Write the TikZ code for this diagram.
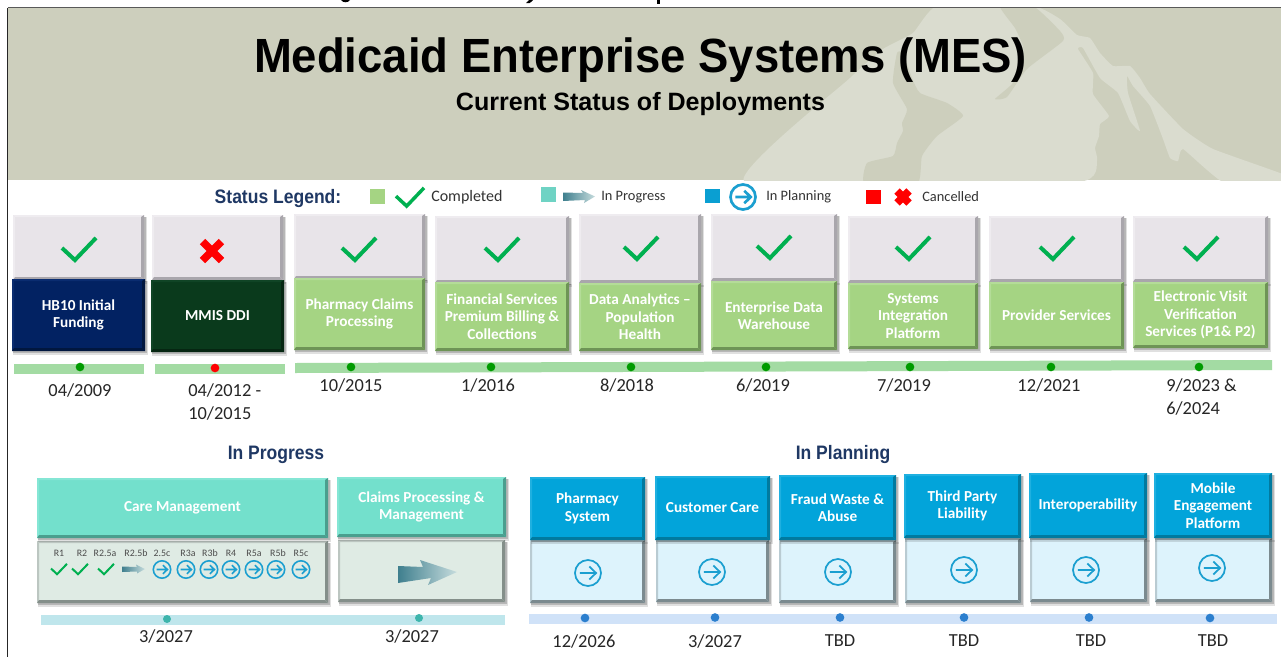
\documentclass[tikz,border=0pt]{standalone}
\usepackage{fontspec}
\setmainfont{Carlito}
\newfontfamily\titlefont[FakeStretch=.947]{Liberation Sans}
\newfontfamily\subtitlefont{Liberation Sans}
\newfontfamily\headfont[FakeStretch=.9]{Liberation Sans}
\definecolor{hdrbg}{HTML}{CDCFBD}
\definecolor{hdrlite}{HTML}{DADCCF}
\definecolor{navy}{HTML}{1F3864}
\definecolor{okgreen}{HTML}{00B050}
\definecolor{ringblue}{HTML}{1B9FD0}
\definecolor{greyfill}{HTML}{E8E4E9}\definecolor{greydark}{HTML}{A9A6AC}\definecolor{greylite}{HTML}{EFECF0}
\definecolor{greenfill}{HTML}{A5D483}\definecolor{greendark}{HTML}{6E9456}\definecolor{greenlite}{HTML}{B4DC98}
\definecolor{navyfill}{HTML}{022262}\definecolor{navydark}{HTML}{01173F}\definecolor{navylite}{HTML}{0A2C70}
\definecolor{forestfill}{HTML}{0A3A1C}\definecolor{forestdark}{HTML}{062612}\definecolor{forestlite}{HTML}{104425}
\definecolor{tealfill}{HTML}{73E0CC}\definecolor{tealdark}{HTML}{4A9E8E}\definecolor{teallite}{HTML}{85E6D5}
\definecolor{bluefill}{HTML}{02A4DA}\definecolor{bluedark}{HTML}{017A9F}\definecolor{bluelite}{HTML}{1FB0E0}
\definecolor{palefill}{HTML}{DDF3FC}\definecolor{paledark}{HTML}{7B8A8F}\definecolor{palelite}{HTML}{B9CBD2}
\definecolor{sagefill}{HTML}{DFEBE4}\definecolor{sagedark}{HTML}{848F8A}\definecolor{sagelite}{HTML}{BCC6C1}
\definecolor{legteal}{HTML}{6FD3C4}
\definecolor{legblue}{HTML}{0A9FD2}
\definecolor{arrowdark}{HTML}{3F7F8E}
\definecolor{arrowlite}{HTML}{C6DCDD}
\definecolor{bargreen}{HTML}{A3DBA3}
\definecolor{barcyan}{HTML}{BFE6EC}
\definecolor{barblue}{HTML}{D0E2F8}
\definecolor{dotgreen}{HTML}{009B00}
\definecolor{dotteal}{HTML}{3DB5AC}
\definecolor{dotblue}{HTML}{2C7FCE}
\tikzset{
  x=.75pt,y=-.75pt,
  boxlabel/.style={font=\fontsize{11.45pt}{13.2pt}\selectfont\bfseries,text=white,align=center,inner sep=0pt},
  datelabel/.style={font=\fontsize{13.8pt}{16.4pt}\selectfont,text=black!85,inner sep=0pt},
  subhead/.style={font=\headfont\fontsize{14.6pt}{16pt}\selectfont\bfseries,text=navy,inner sep=0pt},
  legendtext/.style={font=\fontsize{12pt}{14pt}\selectfont,text=black!80,inner sep=0pt,anchor=west},
  legendsmall/.style={legendtext,font=\fontsize{10.8pt}{12pt}\selectfont},
  sublabel/.style={font=\fontsize{7.4pt}{8pt}\selectfont,text=black!70,inner sep=0pt},
  checkmark/.style={draw=okgreen,line width=#1,line cap=butt,line join=miter},
  ring/.style={draw=ringblue,line width=#1,fill=none},
  dotmark/.style={circle,inner sep=0pt,minimum size=#1},
}
% type, name, x1, y1, x2, y2, text
\newcommand\tbox[7]{%
  \fill[black,opacity=.12] ({#3+1},{#4+2}) rectangle ({#5+3},{#6+4});
  \fill[black,opacity=.18] ({#3+1},{#4+2}) rectangle ({#5+1.5},{#6+2});
  \pgfmathsetmacro\bw{(#5-#3)*.75}\pgfmathsetmacro\bh{(#6-#4)*.75}
  \pgfmathsetmacro\cx{(#3+#5)/2}\pgfmathsetmacro\cy{(#4+#6)/2}
  \node[fill=#1fill,minimum width=\bw pt,minimum height=\bh pt,boxlabel] (#2) at (\cx,\cy) {};
  \fill[#1lite] (#3,#4)--(#5,#4)--({#5-2},{#4+2})--({#3+2},{#4+2})--cycle;
  \fill[#1lite] (#3,#4)--(#3,#6)--({#3+2},{#6-2})--({#3+2},{#4+2})--cycle;
  \fill[#1dark] (#5,#6)--(#3,#6)--({#3+2},{#6-3})--({#5-3},{#6-3})--cycle;
  \fill[#1dark] (#5,#6)--(#5,#4)--({#5-3},{#4+2})--({#5-3},{#6-3})--cycle;
  \node[boxlabel] (#2t) at (#2.center) {#7};
}
\newcommand\chk[4]{% cx cy half-width lw
  \draw[checkmark=#4] ({#1-#3},{#2-.06*#3}) -- ({#1-.24*#3},{#2+.65*#3}) -- ({#1+#3},{#2-.65*#3});
}
\newcommand\crossmark[3]{% cx cy half
  \draw[red,line width=5.6pt] ({#1-#3},{#2-#3}) -- ({#1+#3},{#2+#3}) ({#1-#3},{#2+#3}) -- ({#1+#3},{#2-#3});
}
\newcommand\ringarrow[4]{% cx cy r lw
  \draw[ring=#4] (#1,#2) circle[radius=#3];
  \draw[ringblue,line width=#4] ({#1-.62*#3},#2) -- ({#1+.62*#3},#2)
     ({#1+.1*#3},{#2-.5*#3}) -- ({#1+.62*#3},#2) -- ({#1+.1*#3},{#2+.5*#3});
}
\begin{document}
\begin{tikzpicture}
\useasboundingbox (0,0) rectangle (1281,657);
\fill[white] (0,0) rectangle (1281,657);
% clipped fragments of a line above the picture
\fill[black] (341,0) .. controls (343,3) and (348,3) .. (350,0) -- cycle;
\fill[black] (526,3) .. controls (528,4) and (531,3) .. (533,0) -- (529,0) -- cycle;
\fill[black] (657,0) rectangle (660,4);
% header
\begin{scope}
\clip (8,8) rectangle (1281,180);
\fill[hdrbg] (8,8) rectangle (1281,180);
\fill[hdrlite] plot[smooth cycle,tension=.25] coordinates {
 (745,182) (850,78) (883,49) (913,33) (937,6) (1033,6) (1060,19) (1077,35) (1090,38) (1100,53) (1113,66) (1130,66) (1140,78) (1150,94) (1183,129) (1213,149) (1285,175) (1285,184) (1223,182) (1183,149) (1178,161) (1170,158) (1163,139) (1150,106) (1133,86) (1127,76) (1128,93) (1140,131) (1130,121) (1118,93) (1100,78) (1083,48) (1078,49) (1093,73) (1093,94) (1109,116) (1100,124) (1099,136) (1095,148) (1097,161) (1077,182)};
\fill[hdrbg] plot[smooth cycle,tension=.3] coordinates {
 (1000,6) (1033,6) (1060,31) (1063,41) (1027,69) (1007,97) (995,99) (1012,84) (1023,63) (1023,46) (1015,28)};
\fill[hdrbg] plot[smooth cycle,tension=.3] coordinates {
 (897,53) (893,83) (907,109) (902,123) (903,131) (897,143) (893,156) (867,163) (865,184) (917,184) (922,156) (937,136) (963,116) (947,103) (920,93) (912,78) (903,53)};
\end{scope}
\draw[black!65,line width=.9pt] (8,7.5) -- (1281,7.5);
\draw[black!85,line width=.9pt] (7.5,7.5) -- (7.5,657);
\node[font=\titlefont\fontsize{36pt}{40pt}\selectfont\bfseries,inner sep=0pt] (title) at (640.5,60) {Medicaid Enterprise Systems (MES)};
\node[font=\subtitlefont\fontsize{18.8pt}{22pt}\selectfont\bfseries,inner sep=0pt] (subtitle) at (640.5,104) {Current Status of Deployments};
% legend
\node[subhead] (lg) at (278,199) {Status Legend:};
\fill[greenfill] (370,189) rectangle (385,204);
\chk{410}{197}{14}{2.6pt}
\node[legendtext] (lg1) at (431,197) {Completed};
\fill[legteal] (541,187) rectangle (556,202);
\shade[left color=arrowdark,right color=arrowlite] (563,192.5) -- (583,193) -- (581,190) -- (595,196.5) -- (584,203) -- (585,200) -- (563,201) -- cycle;
\node[legendsmall] (lg2) at (601,197) {In Progress};
\fill[legblue] (705,189) rectangle (720,203);
\ringarrow{743}{197}{12.5}{2pt}
\node[legendsmall] (lg3) at (766,197) {In Planning};
\fill[red] (866,190) rectangle (881,204);
\crossmark{903}{197}{6}
\node[legendsmall] (lg4) at (922,197) {Cancelled};
% completed row: status tiles
\tbox{grey}{s1}{13}{215}{144}{280}{}
\tbox{grey}{s2}{152}{215}{283}{280}{}
\tbox{grey}{s3}{294}{214}{425}{279}{}
\tbox{grey}{s4}{435}{216}{569}{283}{}
\tbox{grey}{s5}{579}{214}{701}{283}{}
\tbox{grey}{s6}{711}{214}{837}{281}{}
\tbox{grey}{s7}{848}{216}{978}{283}{}
\tbox{grey}{s8}{989}{216}{1124}{282}{}
\tbox{grey}{s9}{1133}{216}{1268}{282}{}
\chk{79}{249}{17}{3pt}
\crossmark{212}{251}{9.5}
\chk{359}{249}{17}{3pt}
\chk{502}{249}{17}{3pt}
\chk{641}{248}{17}{3pt}
\chk{774}{247}{17}{3pt}
\chk{913}{248}{17}{3pt}
\chk{1057}{248}{17}{3pt}
\chk{1201}{248}{17}{3pt}
\tbox{navy}{b1}{12}{279}{145}{351}{HB10 Initial\\Funding}
\tbox{forest}{b2}{151}{280}{284}{352}{MMIS DDI}
\tbox{green}{b3}{294}{278}{425}{350}{Pharmacy Claims\\Processing}
\tbox{green}{b4}{435}{282}{569}{351}{Financial Services\\Premium Billing \&\\Collections}
\tbox{green}{b5}{579}{283}{701}{351}{Data Analytics --\\Population\\Health}
\tbox{green}{b6}{711}{281}{837}{350}{Enterprise Data\\Warehouse}
\tbox{green}{b7}{848}{283}{978}{349}{Systems\\Integration\\Platform}
\tbox{green}{b8}{989}{282}{1124}{349}{Provider Services}
\tbox{green}{b9}{1133}{282}{1268}{348}{Electronic Visit\\Verification\\Services (P1\& P2)}
% timelines
\fill[bargreen] (14,364) rectangle (144,374);
\fill[bargreen] (155,364) rectangle (285,374);
\fill[bargreen] (295,363) -- (1272,360) -- (1272,370) -- (295,373) -- cycle;
\foreach \nm/\px/\py/\cl in {t1/80/367/dotgreen,t2/215/368/red,t3/351/367/dotgreen,t4/491/367/dotgreen,t5/631/367/dotgreen,t6/766/367/dotgreen,t7/910/367/dotgreen,t8/1051/367/dotgreen,t9/1199/367/dotgreen}{
  \node[dotmark=6.5pt,fill=\cl] (\nm) at (\px,\py) {};
}
\node[datelabel] (d1) at (80,390) {04/2009};
\node[datelabel,align=left,anchor=north west] (d2) at (188,383) {04/2012 -\\[1pt]10/2015};
\node[datelabel] (d3) at (351,385) {10/2015};
\node[datelabel] (d4) at (488,385) {1/2016};
\node[datelabel] (d5) at (627,385) {8/2018};
\node[datelabel] (d6) at (763,385) {6/2019};
\node[datelabel] (d7) at (904,385) {7/2019};
\node[datelabel] (d8) at (1049,385) {12/2021};
\node[datelabel,align=left,anchor=north west] (d9) at (1166,378) {9/2023 \&\\[1pt]6/2024};
% lower headings
\node[subhead] (hp) at (276,455) {In Progress};
\node[subhead] (hq) at (843,455) {In Planning};
% in progress
\tbox{sage}{g1}{37}{541}{328}{603}{}
\tbox{sage}{g2}{338}{540}{505}{602}{}
\tbox{teal}{p1}{37}{478}{328}{538}{Care Management}
\tbox{teal}{p2}{337}{477}{506}{537}{Claims Processing \&\\Management}
\foreach \nm/\px/\lbl in {r1/59/R1,r2/82/R2,r3/105/R2.5a,r4/136/R2.5b,r5/162/2.5c,r6/188/R3a,r7/210/R3b,r8/231/R4,r9/254/R5a,r10/278/R5b,r11/301/R5c}{
  \node[sublabel] (\nm) at (\px,553) {\lbl};
}
\chk{59}{569}{8}{1.5pt}
\chk{80}{569}{8}{1.5pt}
\chk{106}{569}{8}{1.5pt}
\shade[left color=arrowdark,right color=arrowlite] (122,566.5) -- (137,567) -- (136,564.5) -- (145,569) -- (137,573.5) -- (137,571.5) -- (122,572) -- cycle;
\foreach \px in {162,186,209,231,254,276,301}{\ringarrow{\px}{569.5}{8.7}{1.2pt}}
\shade[left color=arrowdark,right color=arrowlite] (398,566) -- (423,567) -- (420,560) -- (457,572) -- (428,585) -- (431,578) -- (398,583) -- cycle;
\fill[barcyan] (41,615) rectangle (505,625);
\node[dotmark=6pt,fill=dotteal] (u1) at (167,619) {};
\node[dotmark=6pt,fill=dotteal] (u2) at (419,618) {};
\node[datelabel] (e1) at (166,636) {3/2027};
\node[datelabel] (e2) at (412,636) {3/2027};
% in planning
\tbox{pale}{c1}{530}{540}{645}{603}{}
\tbox{pale}{c2}{656}{540}{769}{602}{}
\tbox{pale}{c3}{779}{540}{896}{603}{}
\tbox{pale}{c4}{905}{538}{1021}{603}{}
\tbox{pale}{c5}{1030}{538}{1147}{602}{}
\tbox{pale}{c6}{1155}{538}{1272}{602}{}
\tbox{blue}{q1}{530}{477}{645}{540}{Pharmacy\\System}
\tbox{blue}{q2}{655}{476}{770}{540}{Customer Care}
\tbox{blue}{q3}{779}{475}{896}{540}{Fraud Waste \&\\Abuse}
\tbox{blue}{q4}{904}{474}{1021}{538}{Third Party\\Liability}
\tbox{blue}{q5}{1029}{473}{1147}{538}{Interoperability}
\tbox{blue}{q6}{1154}{473}{1272}{538}{Mobile\\Engagement\\Platform}
\ringarrow{588}{573}{13}{1.3pt}
\ringarrow{712}{572}{13}{1.3pt}
\ringarrow{838}{572}{13}{1.3pt}
\ringarrow{964}{570}{13}{1.3pt}
\ringarrow{1086}{570}{13}{1.3pt}
\ringarrow{1212}{568}{13}{1.3pt}
\fill[barblue] (529,614) rectangle (1277,624);
\foreach \nm/\px/\py in {v1/585/618,v2/715/617.5,v3/840/617.5,v4/964/617.5,v5/1089/617.5,v6/1210/618}{
  \node[dotmark=6.5pt,fill=dotblue] (\nm) at (\px,\py) {};
}
\node[datelabel] (f1) at (584,641) {12/2026};
\node[datelabel] (f2) at (715,641) {3/2027};
\node[datelabel] (f3) at (840,641) {TBD};
\node[datelabel] (f4) at (964,641) {TBD};
\node[datelabel] (f5) at (1091,641) {TBD};
\node[datelabel] (f6) at (1213,641) {TBD};
\end{tikzpicture}
\end{document}
